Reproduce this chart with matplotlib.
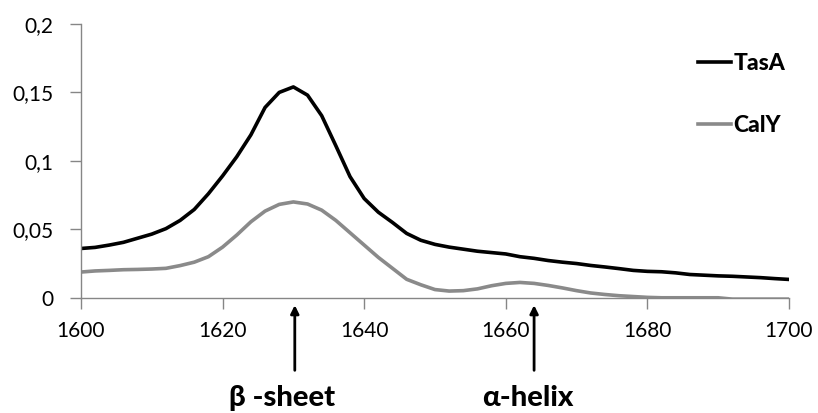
import numpy as np
import matplotlib
matplotlib.use("Agg")
import matplotlib.pyplot as plt

# ---------------------------------------------------------------
# Data (every 2 cm-1)
# ---------------------------------------------------------------
wavenumber = np.arange(1600, 1701, 2)

tasa = [0.036, 0.0368, 0.0385, 0.0405, 0.0435, 0.0465, 0.0505, 0.0565, 0.0645, 0.076,
        0.089, 0.103, 0.119, 0.139, 0.150, 0.154, 0.148, 0.133, 0.111, 0.0885,
        0.0725, 0.0625, 0.055, 0.047, 0.042, 0.039, 0.037, 0.0355, 0.034, 0.033,
        0.032, 0.030, 0.0288, 0.0272, 0.026, 0.025, 0.0236, 0.0225, 0.0213, 0.020,
        0.0193, 0.019, 0.0182, 0.017, 0.0165, 0.016, 0.0157, 0.0152, 0.0147, 0.014,
        0.0134]

caly = [0.0188, 0.0196, 0.020, 0.0205, 0.0207, 0.021, 0.0215, 0.0235, 0.026, 0.030,
        0.037, 0.0458, 0.0555, 0.0633, 0.0682, 0.070, 0.0685, 0.064, 0.0565, 0.0475,
        0.0385, 0.0295, 0.0215, 0.0135, 0.0095, 0.006, 0.0049, 0.0052, 0.0065, 0.0088,
        0.0105, 0.0112, 0.0105, 0.009, 0.0072, 0.0052, 0.0035, 0.0024, 0.0015, 0.0009,
        0.0003, 0.0, 0.0, 0.0, 0.0, 0.0, -0.001, -0.001, -0.001, -0.001,
        -0.001]

x_ticks = [1600, 1620, 1640, 1660, 1680, 1700]
y_ticks = [0, 0.05, 0.1, 0.15, 0.2]
y_labels = ["0", "0,05", "0,1", "0,15", "0,2"]

bands = ["\u03b2 -sheet", "\u03b1-helix"]
band_pos = [1630.2, 1664.0]
band_text_x = [1628.4, 1663.1]

plt.rcParams["font.family"] = ["Lato", "DejaVu Sans"]

fig = plt.figure(figsize=(8.18, 4.13), dpi=100)
ax = fig.add_axes([0.099, 0.279, 0.8655, 0.663])

ax.plot(wavenumber, tasa, color="black", lw=2.6, label="TasA", solid_joinstyle="round")
ax.plot(wavenumber, caly, color="#8a8a8a", lw=2.6, label="CalY", solid_joinstyle="round")

ax.set_xlim(1600, 1700)
ax.set_ylim(0, 0.2)
ax.set_xticks(x_ticks)
ax.set_yticks(y_ticks)
ax.set_yticklabels(y_labels)
ax.tick_params(direction="out", length=8, width=1, color="#868686",
               labelsize=15, colors="black")
ax.tick_params(axis="x", pad=9)
ax.tick_params(axis="y", pad=12)

for side in ["top", "right"]:
    ax.spines[side].set_visible(False)
for side in ["left", "bottom"]:
    ax.spines[side].set_color("#868686")
    ax.spines[side].set_linewidth(1)

ax.legend(frameon=False, loc="upper left", bbox_to_anchor=(0.842, 0.97),
          handlelength=1.45, handletextpad=0.1, labelspacing=1.8,
          prop={"weight": "black", "size": 16.5})

for pos, tx, label in zip(band_pos, band_text_x, bands):
    ax.annotate("", xy=(pos, -0.027), xytext=(pos, -0.265),
                xycoords=("data", "axes fraction"), textcoords=("data", "axes fraction"),
                arrowprops=dict(arrowstyle="-|>", color="black", lw=2,
                                mutation_scale=12, shrinkA=0, shrinkB=0),
                annotation_clip=False)
    ax.text(tx, -0.366, label, transform=ax.get_xaxis_transform(),
            ha="center", va="center", fontsize=21, fontweight="black")

fig.savefig("out.png", dpi=100)
